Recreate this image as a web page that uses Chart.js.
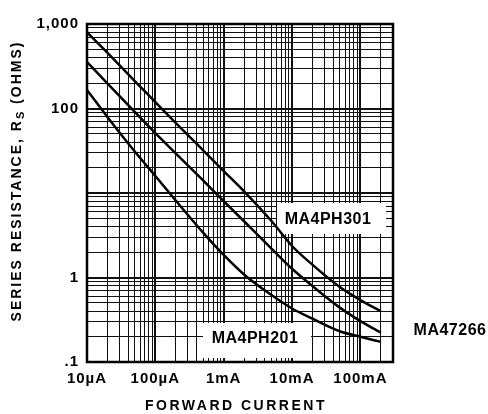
<!DOCTYPE html>
<html>
<head>
<meta charset="utf-8">
<script src="https://cdn.jsdelivr.net/npm/chart.js@4.4.1/dist/chart.umd.min.js"></script>
<style>
  html, body { margin: 0; padding: 0; background: #fff; }
  #wrap { width: 488px; height: 414px; }
</style>
</head>
<body>
<div id="wrap"><canvas id="rsChart" width="488" height="414"></canvas></div>
<script>
// Forward current (mA) and series resistance (ohms)
const currents = [0.01, 0.02, 0.05, 0.1, 0.2, 0.5, 1, 2, 5, 10, 20, 50, 100, 200];
const ma4ph301 = [800, 454, 211, 119, 67, 32, 18.2, 10.4, 4.66, 2.36, 1.41, 0.77, 0.54, 0.40];
const ma47266  = [355, 197, 91, 51, 29.3, 14.1, 8.0, 4.6, 2.2, 1.27, 0.79, 0.44, 0.305, 0.222];
const ma4ph201 = [166, 79, 31, 15.9, 8.1, 3.4, 1.85, 1.08, 0.62, 0.43, 0.325, 0.231, 0.199, 0.173];

// Axis ticks
const xTickValues = [0.01, 0.1, 1, 10, 100];
const xTickLabels = ['10\u00b5A', '100\u00b5A', '1mA', '10mA', '100mA'];
const yTickValues = [0.1, 1, 100, 1000];
const yTickLabels = ['.1', '1', '100', '1,000'];

const FONT = "'Liberation Sans', Arial, sans-serif";

// grid lines at 1..9 of every decade
function logGrid(min, max) {
    const out = [];
    for (let d = min; d < max * 1.0001; d *= 10) {
        for (let k = 1; k <= 9; k++) {
            const v = +(d * k).toPrecision(6);
            if (v <= max * 1.0001) out.push({ value: v });
        }
    }
    return out;
}

function labelFor(values, labels, v) {
    const i = values.findIndex(t => Math.abs(t - v) / t < 1e-6);
    return i >= 0 ? labels[i] : '';
}

function isDecade(v) {
    const l = Math.log10(v);
    return Math.abs(l - Math.round(l)) < 1e-6;
}

function series(values) {
    return currents.map((c, i) => ({ x: c, y: values[i] }));
}

// Titles, curve tags and the frame
const annotate = {
    id: 'annotate',
    beforeDraw(chart) {
        chart.ctx.letterSpacing = '1px';
    },
    beforeDatasetsDraw(chart) {
        const ctx = chart.ctx;
        ctx.save();
        // white tag boxes over the grid
        ctx.fillStyle = '#fff';
        ctx.fillRect(277, 203, 109, 31);
        ctx.fillRect(203, 323, 108, 35);

        ctx.fillStyle = '#000';
        ctx.font = 'bold 16px ' + FONT;
        ctx.letterSpacing = '0.5px';
        ctx.textAlign = 'center';
        ctx.textBaseline = 'middle';
        ctx.fillText('MA4PH301', 328, 220);
        ctx.fillText('MA4PH201', 255, 339);
        ctx.restore();
    },
    afterDatasetsDraw(chart) {
        const ctx = chart.ctx;
        const a = chart.chartArea;
        ctx.save();
        ctx.fillStyle = '#000';
        ctx.textAlign = 'center';
        ctx.textBaseline = 'middle';
        ctx.font = 'bold 16px ' + FONT;
        ctx.letterSpacing = '0.5px';
        ctx.fillText('MA47266', 450, 331);

        // frame
        ctx.strokeStyle = '#000';
        ctx.lineWidth = 2.5;
        ctx.strokeRect(a.left, a.top, a.right - a.left, a.bottom - a.top);

        // x title
        ctx.font = 'bold 14px ' + FONT;
        ctx.letterSpacing = '2.5px';
        ctx.fillText('FORWARD CURRENT', 236, 406);

        // y title with subscript S
        ctx.translate(17, 181);
        ctx.rotate(-Math.PI / 2);
        ctx.textAlign = 'left';
        ctx.letterSpacing = '2px';
        const p1 = 'SERIES RESISTANCE, R';
        const p3 = ' (OHMS)';
        ctx.font = 'bold 14px ' + FONT;
        const w1 = ctx.measureText(p1).width;
        const w3 = ctx.measureText(p3).width;
        ctx.font = 'bold 11px ' + FONT;
        const w2 = ctx.measureText('S').width;
        let x = -(w1 + w2 + w3) / 2;
        ctx.font = 'bold 14px ' + FONT;
        ctx.fillText(p1, x, 0);
        x += w1;
        ctx.font = 'bold 11px ' + FONT;
        ctx.fillText('S', x, 4);
        x += w2;
        ctx.font = 'bold 14px ' + FONT;
        ctx.fillText(p3, x, 0);

        ctx.restore();
    },
    afterDraw(chart) {
        chart.ctx.letterSpacing = '0px';
    }
};

const lineStyle = {
    borderColor: '#000',
    borderWidth: 2.5,
    pointRadius: 0,
    fill: false,
    cubicInterpolationMode: 'monotone'
};

new Chart(document.getElementById('rsChart'), {
    type: 'line',
    data: {
        datasets: [
            Object.assign({ label: 'MA4PH301', data: series(ma4ph301) }, lineStyle),
            Object.assign({ label: 'MA47266', data: series(ma47266) }, lineStyle),
            Object.assign({ label: 'MA4PH201', data: series(ma4ph201) }, lineStyle)
        ]
    },
    options: {
        responsive: false,
        animation: false,
        layout: { padding: { left: 0, top: 24, right: 95, bottom: 0 } },
        plugins: {
            legend: { display: false },
            tooltip: { enabled: false }
        },
        scales: {
            x: {
                type: 'logarithmic',
                min: 0.01,
                max: 300,
                afterBuildTicks: scale => { scale.ticks = logGrid(0.01, 300); },
                afterFit: scale => {
                    scale.height = 52;
                    scale.paddingLeft = 0;
                    scale.paddingRight = 0;
                },
                border: { display: false },
                grid: {
                    color: '#111',
                    lineWidth: c => (c.tick && isDecade(c.tick.value) ? 2 : 1),
                    drawTicks: false
                },
                ticks: {
                    autoSkip: false,
                    maxRotation: 0,
                    padding: 8,
                    color: '#000',
                    font: { family: FONT, size: 15, weight: 'bold' },
                    callback: v => labelFor(xTickValues, xTickLabels, v)
                }
            },
            y: {
                type: 'logarithmic',
                min: 0.1,
                max: 1000,
                afterBuildTicks: scale => { scale.ticks = logGrid(0.1, 1000); },
                afterFit: scale => {
                    scale.width = 87;
                    scale.paddingTop = 0;
                    scale.paddingBottom = 0;
                },
                border: { display: false },
                grid: {
                    color: '#111',
                    lineWidth: c => (c.tick && isDecade(c.tick.value) ? 2 : 1),
                    drawTicks: false
                },
                ticks: {
                    autoSkip: false,
                    padding: 8,
                    color: '#000',
                    font: { family: FONT, size: 15, weight: 'bold' },
                    callback: v => labelFor(yTickValues, yTickLabels, v)
                }
            }
        }
    },
    plugins: [annotate]
});
</script>
</body>
</html>
